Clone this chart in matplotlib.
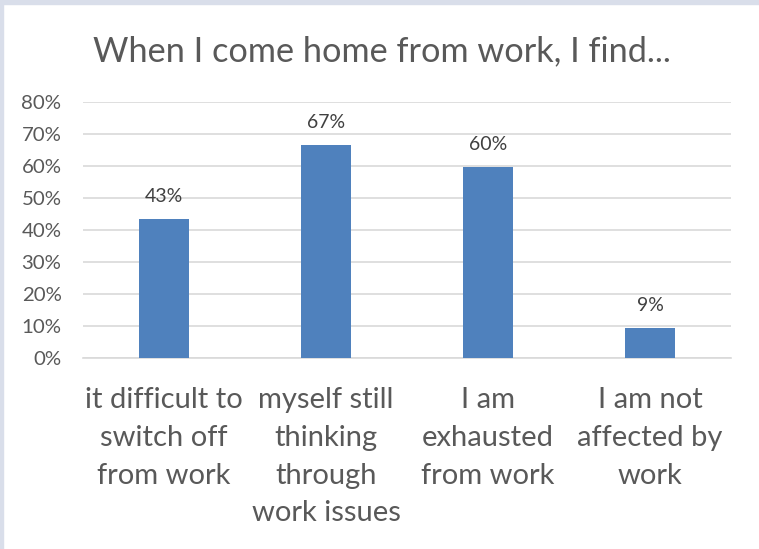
import matplotlib
matplotlib.use("Agg")
import matplotlib.pyplot as plt
from matplotlib.patches import Rectangle
from matplotlib.ticker import FuncFormatter, MultipleLocator

categories = ["it difficult to\nswitch off\nfrom work",
              "myself still\nthinking\nthrough\nwork issues",
              "I am\nexhausted\nfrom work",
              "I am not\naffected by\nwork"]
values = [0.434, 0.666, 0.597, 0.094]
title = "When I come home from work, I find..."

plt.rcParams['font.family'] = ['Lato', 'DejaVu Sans']
W, H = 759, 549
fig = plt.figure(figsize=(W/100, H/100), dpi=100)
fig.patch.set_facecolor('white')

# border bands
fig.add_artist(Rectangle((0, 1 - 4/H), 1, 4/H, transform=fig.transFigure, color='#D9DEEA', zorder=0))
fig.add_artist(Rectangle((0, 0), 3/W, 1, transform=fig.transFigure, color='#D9DEEA', zorder=0))

x0, x1 = 83, 731
y0, y1 = 358, 102
ax = fig.add_axes([x0/W, 1 - y0/H, (x1-x0)/W, (y0-y1)/H])
pos = list(range(len(categories)))
bars = ax.bar(pos, values, width=0.31, color='#4F81BD', zorder=3)
ax.set_xlim(-0.5, len(categories) - 0.5)
ax.set_ylim(0, 0.8)
ax.yaxis.set_major_locator(MultipleLocator(0.1))
ax.yaxis.set_major_formatter(FuncFormatter(lambda v, p: f"{v*100:.0f}%"))
ax.grid(axis='y', color='#D9D9D9', linewidth=1.2, zorder=0)
for s in ['top', 'right', 'left']:
    ax.spines[s].set_visible(False)
ax.spines['bottom'].set_color('#D9D9D9')
ax.spines['bottom'].set_linewidth(1.2)
ax.tick_params(axis='y', length=0, pad=15.5, labelsize=14.7, labelcolor='#595959')
ax.tick_params(axis='x', length=0, pad=21, labelsize=21, labelcolor='#595959')
ax.set_xticks(pos)
ax.set_xticklabels(categories, linespacing=1.56)
for b, v in zip(bars, values):
    ax.annotate(f"{v*100:.0f}%", (b.get_x() + b.get_width()/2, v), xytext=(0, 10),
                textcoords='offset points', ha='center', va='bottom',
                fontsize=14, color='#404040')

fig.text(382/W, 1 - 51/H, title, ha='center', va='center', fontsize=24.7, color='#595959')

fig.savefig('out.png', dpi=100)
